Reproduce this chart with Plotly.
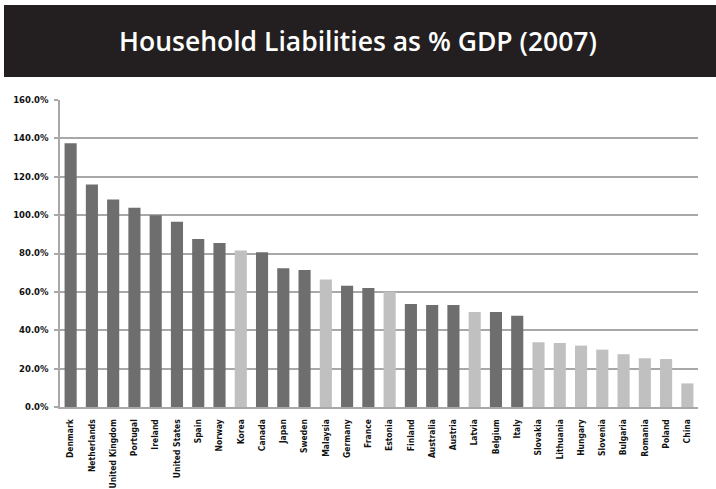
import plotly.graph_objects as go

# Household liabilities as a share of GDP, 2007
countries = [
    "Denmark", "Netherlands", "United Kingdom", "Portugal", "Ireland",
    "United States", "Spain", "Norway", "Korea", "Canada", "Japan", "Sweden",
    "Malaysia", "Germany", "France", "Estonia", "Finland", "Australia",
    "Austria", "Latvia", "Belgium", "Italy", "Slovakia", "Lithuania",
    "Hungary", "Slovenia", "Bulgaria", "Romania", "Poland", "China",
]
liabilities_pct = [
    137.4, 116.0, 108.2, 103.9, 100.0, 96.6, 87.5, 85.5, 81.5, 80.6, 72.3,
    71.4, 66.5, 63.2, 62.0, 60.1, 53.7, 53.2, 53.2, 49.5, 49.5, 47.6, 33.7,
    33.4, 32.0, 29.9, 27.5, 25.4, 25.0, 12.3,
]
# True for emerging economies (drawn in the lighter shade)
emerging = [
    False, False, False, False, False, False, False, False, True, False,
    False, False, True, False, False, True, False, False, False, True,
    False, False, True, True, True, True, True, True, True, True,
]
y_ticks = [0, 20, 40, 60, 80, 100, 120, 140, 160]
y_tick_labels = [f"{v:.1f}%" for v in y_ticks]

DARK = "#6e6e6e"
LIGHT = "#c0c0c0"
GRID = "#a8a8a8"

W, H = 716, 489
L, R, T, B = 60, 18, 100, 82
plot_w = W - L - R
plot_h = H - T - B


def px_to_paper_x(px):
    return (px - L) / plot_w


def px_to_paper_y(py):
    return (H - B - py) / plot_h


fig = go.Figure(
    go.Bar(
        x=countries,
        y=liabilities_pct,
        marker=dict(color=[LIGHT if e else DARK for e in emerging], line=dict(width=0)),
        hovertemplate="%{x}: %{y:.1f}%<extra></extra>",
    )
)

# dark title banner
fig.add_shape(
    type="rect", xref="paper", yref="paper",
    x0=px_to_paper_x(4), x1=px_to_paper_x(W + 2),
    y0=px_to_paper_y(77), y1=px_to_paper_y(5),
    fillcolor="#231f20", line=dict(width=0), layer="below",
)

fig.update_layout(
    width=W, height=H,
    margin=dict(l=L, r=R, t=T, b=B, pad=0, autoexpand=False),
    paper_bgcolor="white", plot_bgcolor="white",
    bargap=0.43,
    showlegend=False,
    title=dict(
        text="Household Liabilities as % GDP (2007)",
        x=0.5, xref="container", xanchor="center",
        y=1 - 42 / H, yref="container", yanchor="middle",
        font=dict(family="Open Sans, Lato, sans-serif", size=26.5, color="white",
                  weight=600),
    ),
    xaxis=dict(
        automargin=False,
        tickangle=-90,
        tickfont=dict(family="DejaVu Sans Condensed, sans-serif",
                      size=8.5, color="#111111", weight="bold"),
        showline=True, linecolor=GRID, linewidth=1.5,
        ticks="", showgrid=False,
        ticklabelstandoff=7,
        ticklabeloverflow="allow",
    ),
    yaxis=dict(
        automargin=False,
        range=[0, 160], tickvals=y_ticks, ticktext=y_tick_labels,
        tickfont=dict(family="DejaVu Sans, Verdana, sans-serif", size=8.5,
                      color="#111111", weight="bold"),
        showline=True, linecolor=GRID, linewidth=1.5,
        ticks="outside", ticklen=4, tickcolor=GRID, tickwidth=1.5,
        showgrid=True, gridcolor=GRID, gridwidth=1.5,
        zeroline=False,
        ticklabelstandoff=4,
    ),
)

fig.write_html("out.html")
